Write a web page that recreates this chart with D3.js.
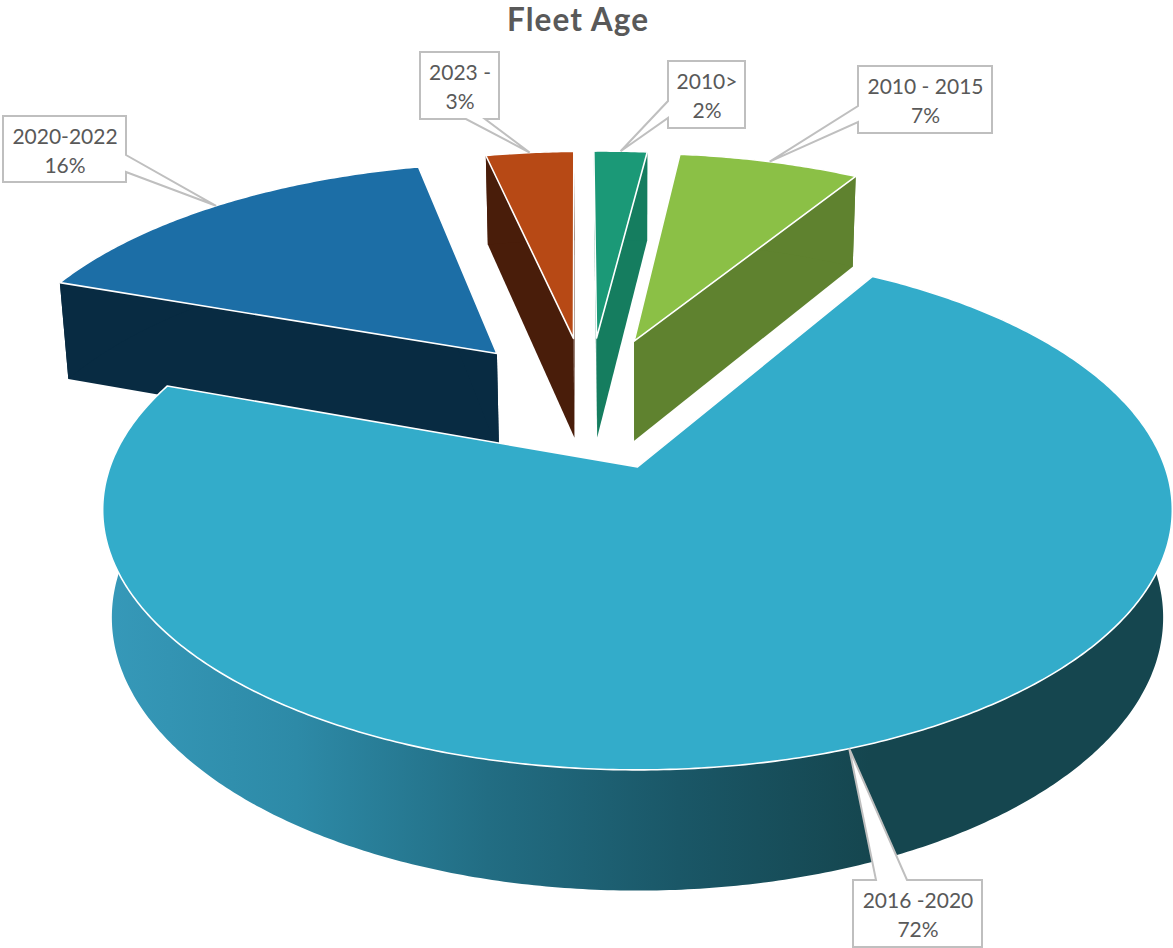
<!DOCTYPE html>
<html>
<head>
<meta charset="utf-8">
<script src="https://cdn.jsdelivr.net/npm/d3@7/dist/d3.min.js"></script>
<style>
html,body{margin:0;padding:0;background:#fff;}
svg{display:block;}
text{font-family:Lato,"Open Sans",sans-serif;fill:#595959;}
</style>
</head>
<body>
<div id="chart"></div>
<script>
// Data
const title = "Fleet Age";
const categories = ["2010>", "2010 - 2015", "2016 -2020", "2020-2022", "2023 -"];
const values = [2.0, 6.8, 72.0, 15.9, 3.3];
const percentLabels = ["2%", "7%", "72%", "16%", "3%"];
const topColors = ["#1b9977", "#8bc046", "#33acca", "#1c6ea6", "#b74915"];
const sideColors = ["#157d5f", "#5f822f", "#15464f", "#082b42", "#491d0a"];

// Callout boxes: x, y, w, h, wedge side, wedge start and end along that side
const calloutBoxes = [
  {x:668, y:61,  w:77,  h:67, side:"left",   a:40, b:57},
  {x:858, y:66,  w:134, h:67, side:"left",   a:40, b:56},
  {x:853, y:880, w:129, h:67, side:"top",    a:23, b:54},
  {x:3,   y:116, w:123, h:66, side:"right",  a:39, b:56},
  {x:420, y:52,  w:79,  h:67, side:"bottom", a:46, b:65}
];

// Layout constants
const W = 1173, H = 948;
const explode = 0.287;
const startDeg = -1.1;
const drawOrder = [3, 4, 0, 1, 2];
const heroIndex = 2;
const heroRadius = 1, pulledRadius = 1.017;
const cam = {cx:637.5, cy:467, rx:527.5, ry:252.9, k:0.165, m:0.017, d:108};

const svg = d3.select("#chart").append("svg").attr("width", W).attr("height", H);

const rad = d3.scaleLinear().domain([0, 360]).range([0, 2 * Math.PI]);
const pie = d3.pie().sort(null).value(d => d)
  .startAngle(rad(startDeg)).endAngle(rad(startDeg + 360));
const arcs = pie(values);
const mid = a => (a.startAngle + a.endAngle) / 2;

const heroMid = mid(arcs[heroIndex]);
const origin = [explode * Math.sin(heroMid), -explode * Math.cos(heroMid)];

function project(u, v, z) {
  const uu = u - origin[0], vv = v - origin[1];
  const w = 1 - cam.k * vv + cam.m * z;
  return [cam.cx + cam.rx * uu / w, cam.cy + (cam.ry * vv + cam.d * z) / w];
}
function slicePoint(a, theta, r, z) {
  const m = mid(a);
  return project(explode * Math.sin(m) + r * Math.sin(theta),
                 -explode * Math.cos(m) - r * Math.cos(theta), z);
}
function rimAngles(a) {
  const n = Math.max(4, Math.ceil((a.endAngle - a.startAngle) / 0.01));
  return d3.range(n + 1).map(i => a.startAngle + (a.endAngle - a.startAngle) * i / n);
}
const line = d3.line();

// gradient for the front wall of the big slice
const defs = svg.append("defs");
const grad = defs.append("linearGradient").attr("id", "heroWall")
  .attr("gradientUnits", "userSpaceOnUse")
  .attr("x1", 105).attr("x2", 870).attr("y1", 0).attr("y2", 0);
[[0, "#3699b9"], [0.25, "#2d8aa7"], [0.5, "#226d83"], [0.75, "#1a5767"], [1, "#15464f"]]
  .forEach(s => grad.append("stop").attr("offset", s[0]).attr("stop-color", s[1]));

drawOrder.forEach(i => {
  const a = arcs[i];
  const R = i === heroIndex ? heroRadius : pulledRadius;
  const g = svg.append("g").attr("class", "slice");
  const th = rimAngles(a);
  [a.startAngle, a.endAngle].forEach(t => {
    g.append("path")
      .attr("d", line([slicePoint(a, 0, 0, 0), slicePoint(a, t, R, 0),
                       slicePoint(a, t, R, 1), slicePoint(a, 0, 0, 1)]) + "Z")
      .attr("fill", sideColors[i]);
  });
  const rim = th.map(t => slicePoint(a, t, R, 0))
    .concat(th.slice().reverse().map(t => slicePoint(a, t, R, 1)));
  g.append("path").attr("d", line(rim) + "Z")
    .attr("fill", i === heroIndex ? "url(#heroWall)" : sideColors[i]);
  const top = [slicePoint(a, 0, 0, 0)].concat(th.map(t => slicePoint(a, t, R, 0)));
  g.append("path").attr("d", line(top) + "Z")
    .attr("fill", topColors[i]).attr("stroke", "#ffffff")
    .attr("stroke-width", 1.6).attr("stroke-linejoin", "round");
});

// Callouts
function calloutPath(b, tip) {
  const x0 = b.x, y0 = b.y, x1 = b.x + b.w, y1 = b.y + b.h;
  const p = [[x0, y0]];
  if (b.side === "top") p.push([x0 + b.a, y0], tip, [x0 + b.b, y0]);
  p.push([x1, y0]);
  if (b.side === "right") p.push([x1, y0 + b.a], tip, [x1, y0 + b.b]);
  p.push([x1, y1]);
  if (b.side === "bottom") p.push([x0 + b.b, y1], tip, [x0 + b.a, y1]);
  p.push([x0, y1]);
  if (b.side === "left") p.push([x0, y0 + b.b], tip, [x0, y0 + b.a]);
  return line(p) + "Z";
}
calloutBoxes.forEach((b, i) => {
  const a = arcs[i];
  const R = i === heroIndex ? heroRadius : pulledRadius;
  const tip = slicePoint(a, mid(a), R, 0);
  const g = svg.append("g").attr("class", "callout");
  g.append("path").attr("d", calloutPath(b, tip))
    .attr("fill", "#ffffff").attr("stroke", "#bfbfbf").attr("stroke-width", 2)
    .attr("stroke-linejoin", "miter");
  g.append("text").attr("x", b.x + b.w / 2 + 0.5).attr("y", b.y + 28)
    .attr("text-anchor", "middle").attr("font-size", 21).text(categories[i]);
  g.append("text").attr("x", b.x + b.w / 2 + 0.5).attr("y", b.y + 57)
    .attr("text-anchor", "middle").attr("font-size", 21).text(percentLabels[i]);
});

svg.append("text").attr("x", 507).attr("y", 31)
  .attr("font-size", 31.5).attr("font-weight", 700)
  .attr("textLength", 141).attr("lengthAdjust", "spacing").text(title);
</script>
</body>
</html>
